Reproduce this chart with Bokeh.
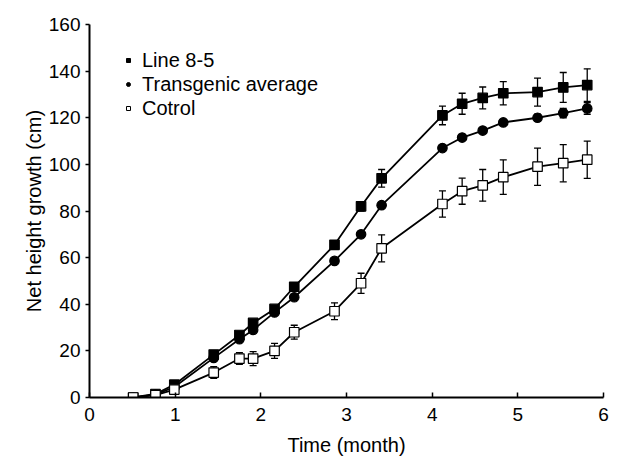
from bokeh.plotting import figure
from bokeh.models import ColumnDataSource, Range1d, Whisker, Legend, LegendItem, FixedTicker
from bokeh.embed import file_html
from bokeh.resources import INLINE

# Time (month)
months = [0.51, 0.77, 0.99, 1.45, 1.75, 1.91, 2.16, 2.39, 2.86, 3.17, 3.41,
          4.12, 4.35, 4.59, 4.83, 5.23, 5.53, 5.81]

line85 = [0, 1.5, 5.5, 18.4, 26.8, 32, 38, 47.5, 65.5, 82, 94,
          121, 126, 128.5, 130.5, 131, 133, 134]
line85_err = [0.5, 0.5, 0.8, 1, 1.2, 1.2, 1.2, 1.2, 1.5, 2, 3.8,
              4, 4.5, 4.7, 5, 6, 6.4, 7]

transgenic = [0, 1.2, 4.5, 17, 25, 29, 36.5, 43, 58.6, 70, 82.5,
              107, 111.5, 114.5, 118, 120, 122, 124]
transgenic_err = [0.3, 0.3, 0.5, 0.6, 0.6, 0.6, 0.7, 0.7, 0.8, 0.8, 0.9,
                  1, 1, 1, 1.2, 1.5, 2, 2.5]

control = [0, 1, 3.4, 10.7, 16.7, 16.7, 20, 28, 37, 49, 64,
           83, 88.5, 91, 94.5, 99, 100.5, 102]
control_err = [0.3, 0.5, 1, 2.5, 2.5, 3, 3.2, 3, 3.6, 4.3, 5.8,
               5.6, 5.6, 6.8, 7.4, 8, 8, 8]

x_ticks = [0, 1, 2, 3, 4, 5, 6]
y_ticks = [0, 20, 40, 60, 80, 100, 120, 140, 160]

FONT = "Liberation Sans"

p = figure(width=611, height=458, output_backend="svg", toolbar_location=None,
           x_range=Range1d(0, 6), y_range=Range1d(0, 160),
           min_border_left=89, min_border_right=8, min_border_top=24, min_border_bottom=60)
p.outline_line_color = None
p.grid.visible = False
p.background_fill_color = "white"
p.border_fill_color = "white"

p.xaxis.ticker = FixedTicker(ticks=x_ticks)
p.yaxis.ticker = FixedTicker(ticks=y_ticks)
p.xaxis.axis_label = "Time (month)"
p.yaxis.axis_label = "Net height growth (cm)"
for ax in (p.xaxis, p.yaxis):
    ax.axis_line_color = "black"
    ax.axis_line_width = 2
    ax.major_tick_line_color = "black"
    ax.major_tick_line_width = 1.5
    ax.minor_tick_line_color = None
    ax.major_label_text_font = FONT
    ax.major_label_text_font_size = "19px"
    ax.major_label_text_color = "black"
    ax.axis_label_text_font = FONT
    ax.axis_label_text_font_size = "20px"
    ax.axis_label_text_font_style = "normal"
    ax.axis_label_text_color = "black"
p.xaxis.major_tick_in = 5
p.xaxis.major_tick_out = 0
p.yaxis.major_tick_in = 0
p.yaxis.major_tick_out = 4
p.xaxis.major_label_standoff = 10
p.yaxis.major_label_standoff = 5
p.xaxis.axis_label_standoff = 10
p.yaxis.axis_label_standoff = 1

series = [
    (line85, line85_err, "square", "black", "Line 8-5"),
    (transgenic, transgenic_err, "circle", "black", "Transgenic average"),
    (control, control_err, "square", "white", "Cotrol"),
]

items = []
for vals, errs, marker, fill, label in series:
    src = ColumnDataSource(dict(
        x=months, y=vals,
        lo=[v - e for v, e in zip(vals, errs)],
        hi=[v + e for v, e in zip(vals, errs)]))
    p.line("x", "y", source=src, line_color="black", line_width=1.8)
    w = Whisker(source=src, base="x", lower="lo", upper="hi",
                line_color="black", line_width=1.3)
    w.upper_head.size = 7
    w.lower_head.size = 7
    w.upper_head.line_width = 1.3
    w.lower_head.line_width = 1.3
    p.add_layout(w)
    p.scatter("x", "y", source=src, marker=marker, size=9.5,
              fill_color=fill, line_color="black", line_width=1.2)
    dummy = p.scatter(x=[float("nan")], y=[float("nan")], marker=marker, size=7,
                      fill_color=fill, line_color="black", line_width=1)
    items.append(LegendItem(label=label, renderers=[dummy]))

legend = Legend(items=items, location=(34, 277), orientation="vertical",
                label_text_font=FONT, label_text_font_size="20px",
                label_text_color="black", glyph_width=10, glyph_height=24,
                label_height=24, spacing=0, padding=0, margin=0,
                label_standoff=9, border_line_color=None,
                background_fill_alpha=0)
p.add_layout(legend)

open("out.html", "w").write(file_html(p, INLINE))
